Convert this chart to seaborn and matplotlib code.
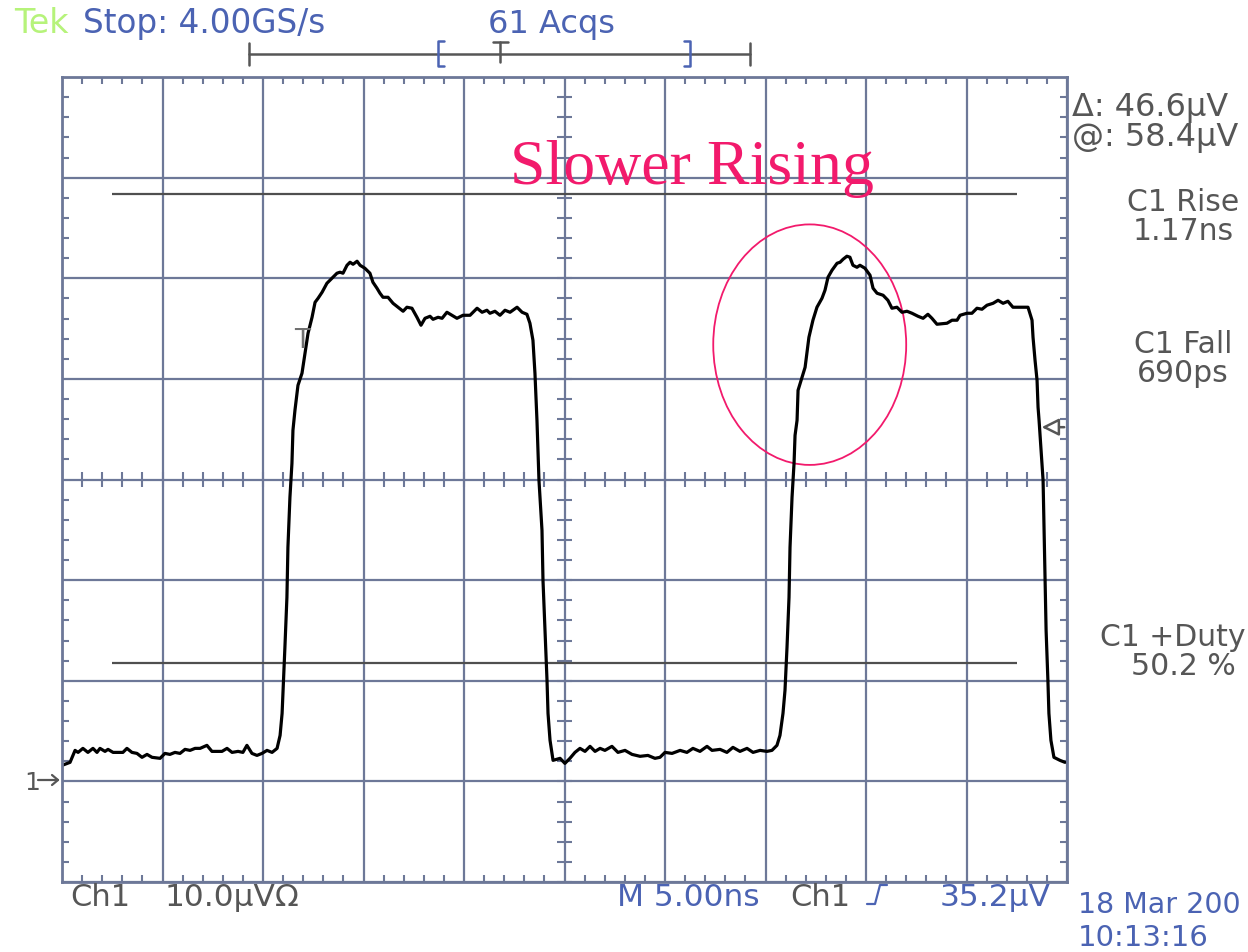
"""
Tektronix scope screen capture: Ch1 square wave with a slow rising edge.
"""

import numpy as np
import pandas as pd
import matplotlib
matplotlib.use("Agg")
import matplotlib.pyplot as plt
from matplotlib.lines import Line2D
from matplotlib.patches import Ellipse
from matplotlib.ticker import MultipleLocator
import seaborn as sns

# ---- values (5 ns/div, 10 uV/div, ground = 0 uV) ----
time_ns = [
    0.00, 0.40, 0.65, 0.80, 1.04, 1.29, 1.54, 1.74, 1.89, 2.14, 2.29, 2.54, 3.03, 3.23,
    3.48, 3.73, 3.98, 4.23, 4.48, 4.88, 5.12, 5.37, 5.62, 5.87, 6.12, 6.37, 6.62, 6.87,
    7.21, 7.46, 7.96, 8.21, 8.46, 8.76, 9.00, 9.20, 9.45, 9.70, 9.95, 10.20, 10.45, 10.70,
    10.85,
    10.95, 11.00, 11.09, 11.19, 11.24, 11.34, 11.44, 11.49, 11.59, 11.74, 11.94, 12.09,
    12.24, 12.44, 12.59, 12.74, 12.94, 13.18, 13.43, 13.68, 13.83, 13.98, 14.18, 14.33,
    14.48, 14.68, 14.83, 15.07, 15.32, 15.47, 15.67, 15.82, 15.97, 16.22, 16.47, 16.72,
    16.97, 17.16, 17.41, 17.66, 17.86, 18.06, 18.31, 18.46, 18.71, 18.91, 19.15, 19.40,
    19.65, 19.95, 20.30, 20.65, 20.90, 21.14, 21.29, 21.54, 21.79, 22.04, 22.29, 22.64,
    22.89, 23.13, 23.28, 23.43, 23.53, 23.63, 23.73, 23.88, 23.93, 24.03, 24.13, 24.18,
    24.28, 24.43, 24.78, 25.02, 25.27,
    25.52, 25.77, 26.02, 26.27, 26.52, 26.77, 27.01, 27.36, 27.66, 28.01, 28.36, 28.76,
    29.15, 29.50, 29.75, 30.00, 30.35, 30.75, 31.09, 31.39, 31.74, 32.09, 32.34, 32.74,
    33.08, 33.38, 33.73, 34.08, 34.38, 34.73, 35.07, 35.32, 35.57, 35.72,
    35.87, 35.97, 36.07, 36.17, 36.22, 36.32, 36.42, 36.47, 36.57, 36.62, 36.82, 36.97,
    37.06, 37.16, 37.36, 37.56, 37.81, 37.96, 38.11, 38.31, 38.56, 38.71, 38.86, 39.05,
    39.20, 39.35, 39.55, 39.70, 39.95, 40.20, 40.35, 40.55, 40.85, 41.09, 41.29, 41.54,
    41.79, 42.04, 42.29, 42.59, 42.84, 43.08, 43.28, 43.53, 44.03, 44.28, 44.53, 44.68,
    45.02, 45.27, 45.52, 45.77, 46.02, 46.32, 46.57, 46.82, 47.06, 47.31, 47.66, 48.06,
    48.26, 48.31, 48.41, 48.51, 48.56, 48.61, 48.71, 48.81, 48.86, 48.91, 48.96, 49.05,
    49.10, 49.20, 49.35, 49.65, 49.90,
]
ch1_uV = [
    1.59, 1.89, 3.08, 2.88, 3.28, 2.88, 3.28, 2.88, 3.28, 2.98, 3.18, 2.88, 2.88, 3.28,
    2.88, 2.78, 2.39, 2.68, 2.39, 2.29, 2.78, 2.68, 2.88, 2.78, 3.18, 3.08, 3.28, 3.28,
    3.58, 2.98, 2.98, 3.28, 2.88, 2.98, 2.88, 3.58, 2.78, 2.58, 2.78, 3.08, 2.88, 3.28,
    4.57,
    6.76, 9.05, 13.32, 18.29, 23.26, 28.23, 31.61, 34.89, 36.88, 39.36, 40.56, 42.54,
    44.53, 46.12, 47.61, 48.01, 48.61, 49.50, 50.00, 50.50, 50.60, 50.50, 51.29, 51.59,
    51.39, 51.69, 51.29, 50.99, 50.50, 49.60, 49.01, 48.51, 48.11, 48.11, 47.51, 47.12,
    46.72, 47.12, 47.02, 46.12, 45.33, 46.02, 46.22, 45.92, 46.12, 46.02, 46.62, 46.32,
    46.02, 46.32, 46.32, 47.02, 46.62, 46.82, 46.52, 46.72, 46.32, 46.82, 46.62, 47.12,
    46.62, 46.42, 45.53, 43.84, 40.56, 35.88, 29.92, 24.95, 19.98, 15.01, 10.04, 6.76,
    4.08, 2.09, 2.29, 1.79, 2.29,
    2.88, 3.28, 2.98, 3.48, 2.98, 3.28, 3.08, 3.48, 2.88, 3.08, 2.68, 2.49,
    2.58, 2.29, 2.39, 2.88, 2.78, 3.08, 2.88, 3.28, 2.98, 3.48, 3.08, 3.18,
    2.88, 3.38, 2.98, 3.28, 2.88, 3.08, 2.98, 3.08, 3.58, 4.57,
    6.76, 9.05, 13.32, 18.29, 23.26, 28.23, 31.61, 34.39, 35.88, 38.87, 40.16, 41.15,
    42.54, 44.13, 45.83, 47.12, 48.01, 48.81, 50.10, 50.80, 51.49, 51.59, 51.89, 52.19,
    52.09, 51.29, 51.09, 51.29, 50.99, 50.30, 49.01, 48.51, 48.31, 47.81, 47.02, 47.12,
    46.62, 46.72, 46.52, 46.22, 46.02, 46.42, 46.02, 45.43, 45.53, 45.83, 45.83, 46.32,
    46.52, 46.52, 47.02, 46.92, 47.32, 47.51, 47.81, 47.51, 47.71, 47.12, 47.12, 47.12,
    45.83, 44.13, 41.85, 39.86, 37.18, 35.88, 32.90, 29.92, 24.95, 19.98, 15.01, 10.04,
    6.76, 4.08, 2.39, 2.09, 1.89,
]

cursor_at_uV = 58.4
cursor_delta_uV = 46.6
trigger_level_uV = 35.2
time_per_div_ns = 5.0
volts_per_div_uV = 10.0

# screen text
readouts = [("Δ: 46.6μV", "@: 58.4μV"), ("C1 Rise", "1.17ns"),
            ("C1 Fall", "690ps"), ("C1 +Duty", "50.2 %")]

W, H = 1248, 953
GRID = "#6d7898"
BLUE = "#4b63b3"
GRAY = "#565656"
GREEN = "#b6f37a"
PINK = "#f21a6c"


def fx(px):
    return px / W


def fy(py):
    return 1 - py / H


sns.set_style("white")
plt.rcParams["font.family"] = ["DejaVu Sans"]

fig = plt.figure(figsize=(W / 100, H / 100), dpi=100)
fig.patch.set_facecolor("white")
ax = fig.add_axes([fx(62), fy(883), (1067 - 62) / W, (883 - 78) / H])

# graticule
ax.set_xlim(0, 10 * time_per_div_ns)
ax.set_ylim(-volts_per_div_uV, 7 * volts_per_div_uV)
ax.xaxis.set_major_locator(MultipleLocator(time_per_div_ns))
ax.yaxis.set_major_locator(MultipleLocator(volts_per_div_uV))
ax.xaxis.set_minor_locator(MultipleLocator(time_per_div_ns / 5))
ax.yaxis.set_minor_locator(MultipleLocator(volts_per_div_uV / 5))
ax.grid(True, which="major", color=GRID, lw=1.6)
ax.tick_params(which="major", length=0, labelbottom=False, labelleft=False)
ax.tick_params(which="minor", direction="in", length=5, width=1.5, color=GRID,
               top=True, right=True, bottom=True, left=True)
for sp in ax.spines.values():
    sp.set_color(GRID)
    sp.set_linewidth(2)

# ticks along the centre cross
cx, cy = 5 * time_per_div_ns, 3 * volts_per_div_uV
xt = np.arange(0, 10 * time_per_div_ns + 0.01, time_per_div_ns / 5)
yt = np.arange(-volts_per_div_uV, 7 * volts_per_div_uV + 0.01, volts_per_div_uV / 5)
ax.vlines(xt, cy - 0.7, cy + 0.7, color=GRID, lw=1.5)
ax.hlines(yt, cx - 0.35, cx + 0.35, color=GRID, lw=1.5)

# cursors
ax.hlines([cursor_at_uV, cursor_at_uV - cursor_delta_uV],
          0.5 * time_per_div_ns, 9.5 * time_per_div_ns, color="#4f4f4f", lw=1.6)

# waveform
df = pd.DataFrame({"time_ns": time_ns, "ch1_uV": ch1_uV})
sns.lineplot(data=df, x="time_ns", y="ch1_uV", sort=False, estimator=None,
             color="black", lw=2.3, ax=ax)
ax.set_xlabel("")
ax.set_ylabel("")

# trigger marks
ax.text(11.95, 43.9, "T", ha="center", va="center", color="#707070", fontsize=19)
ax.annotate("", xy=(48.6, trigger_level_uV), xytext=(50.0, trigger_level_uV),
            arrowprops=dict(arrowstyle="-|>", fc="white", ec=GRAY, lw=1.8,
                            mutation_scale=26))

# annotation
ax.add_patch(Ellipse((37.2, 43.4), 9.6, 23.9, fill=False, ec=PINK, lw=1.3))
fig.text(fx(692), fy(184), "Slower Rising", ha="center", va="baseline",
         color=PINK, fontsize=46, family="Liberation Serif")

# header
fig.text(fx(14), fy(33), "Tek", color=GREEN, fontsize=24, va="baseline")
fig.text(fx(83), fy(33), "Stop: 4.00GS/s", color=BLUE, fontsize=23.5, va="baseline")
fig.text(fx(488), fy(33), "61 Acqs", color=BLUE, fontsize=23, va="baseline")


# record bar
def fline(xs, ys, color, lw=1.8):
    fig.add_artist(Line2D([fx(v) for v in xs], [fy(v) for v in ys],
                          color=color, lw=lw, transform=fig.transFigure))


fline([249, 750], [55, 55], GRAY)
fline([249, 249], [44, 66], GRAY)
fline([750, 750], [44, 66], GRAY)
fline([444, 438, 438, 444], [42, 42, 67, 67], BLUE)
fline([684, 690, 690, 684], [42, 42, 67, 67], BLUE)
fline([493, 508], [43, 43], GRAY)
fline([500, 500], [43, 63], GRAY)

# right-hand readouts
fig.text(fx(1072), fy(116), readouts[0][0], color=GRAY, fontsize=23, va="baseline")
fig.text(fx(1072), fy(146), readouts[0][1], color=GRAY, fontsize=23, va="baseline")
for (a, b), yb in zip(readouts[1:3], [211, 353]):
    fig.text(fx(1183), fy(yb), a, color=GRAY, fontsize=21.5, ha="center", va="baseline")
    fig.text(fx(1183), fy(yb + 29), b, color=GRAY, fontsize=21.5, ha="center", va="baseline")
fig.text(fx(1246), fy(646), readouts[3][0], color=GRAY, fontsize=21.5, ha="right",
         va="baseline")
fig.text(fx(1183), fy(675), readouts[3][1], color=GRAY, fontsize=21.5, ha="center",
         va="baseline")

# ground marker
fig.text(fx(24), fy(790), "1", color=GRAY, fontsize=18, va="baseline")
fline([38, 58], [781, 781], GRAY, lw=1.6)
fline([52, 58, 52], [776, 781, 786], GRAY, lw=1.6)

# bottom status line
fig.text(fx(70), fy(906), "Ch1", color=GRAY, fontsize=22, va="baseline")
fig.text(fx(165), fy(906), "10.0μVΩ", color=GRAY, fontsize=22.5, va="baseline")
fig.text(fx(617), fy(906), "M 5.00ns", color=BLUE, fontsize=22.5, va="baseline")
fig.text(fx(790), fy(906), "Ch1", color=GRAY, fontsize=22, va="baseline")
fline([867, 875, 880, 887], [905, 905, 886, 886], BLUE, lw=1.6)
fig.text(fx(940), fy(906), "35.2μV", color=BLUE, fontsize=22.5, va="baseline")
fig.text(fx(1078), fy(913), "18 Mar 200", color=BLUE, fontsize=20.5, va="baseline")
fig.text(fx(1078), fy(946), "10:13:16", color=BLUE, fontsize=21, va="baseline")

fig.savefig("out.png", dpi=100)
